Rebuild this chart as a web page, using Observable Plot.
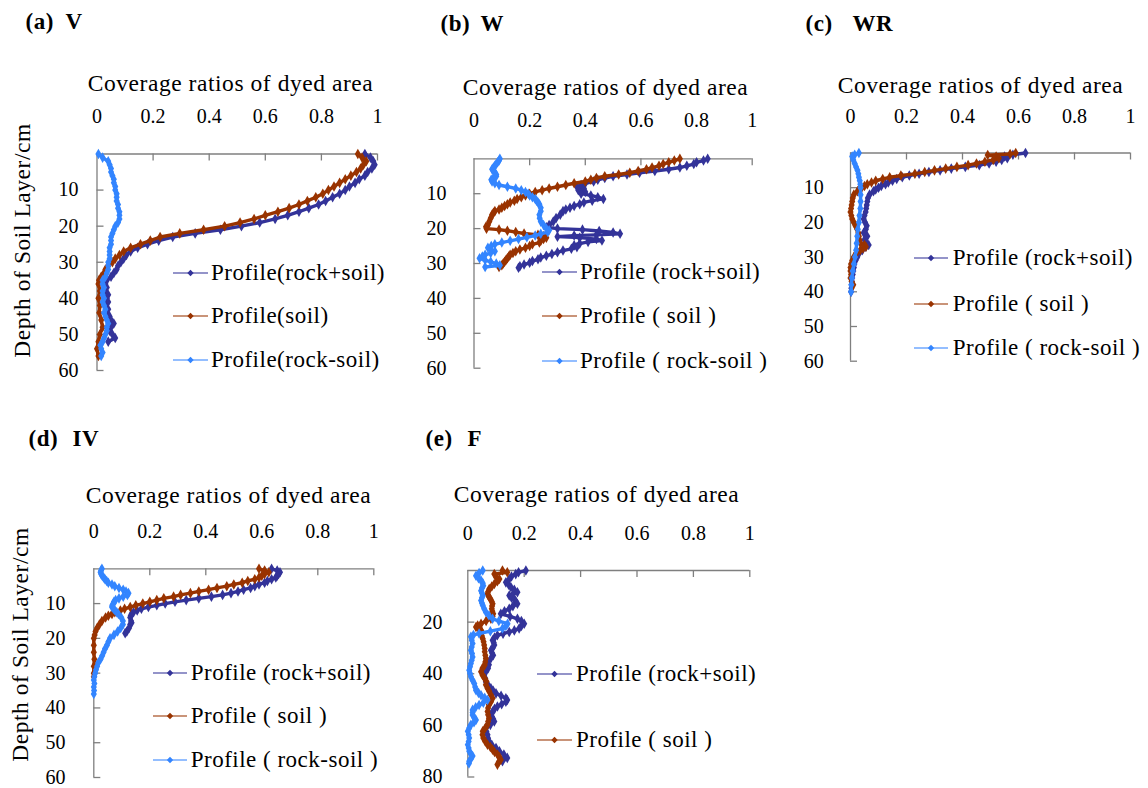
<!DOCTYPE html>
<html><head><meta charset="utf-8">
<script src="https://cdn.jsdelivr.net/npm/d3@7"></script>
<script src="https://cdn.jsdelivr.net/npm/@observablehq/plot@0.6"></script>
<style>
html,body{margin:0;padding:0;background:#fff;}
#root{position:relative;width:1148px;height:788px;overflow:hidden;background:#fff;font-family:"Liberation Serif",serif;}
.panel{position:absolute;}
.panel g[aria-label="text"] text{letter-spacing:0.55px;}
.legend{position:absolute;display:flex;align-items:center;height:26px;font-size:23px;letter-spacing:0.5px;color:#000;white-space:nowrap;font-family:"Liberation Serif",serif;}
.legend svg{display:block;overflow:visible;}
</style></head><body><div id="root"></div>
<script>
// ---------- shared categories / ticks ----------
const seriesNames = ["rock+soil", "soil", "rock-soil"];
const seriesColors = ["#333399", "#993300", "#3385ff"];
const xTicks = [0, 0.2, 0.4, 0.6, 0.8, 1];
const depthTicks60 = [10, 20, 30, 40, 50, 60];
const depthTicks80 = [20, 40, 60, 80];
const xAxisTitle = "Coverage ratios of dyed area";
const yAxisTitle = "Depth of Soil Layer/cm";
const legendLabelsA = ["Profile(rock+soil)", "Profile(soil)", "Profile(rock-soil)"];
const legendLabelsB = ["Profile (rock+soil)", "Profile ( soil )", "Profile ( rock-soil )"];
const panelLetters = ["(a)", "(b)", "(c)", "(d)", "(e)"];
const panelNames = ["V", "W", "WR", "IV", "F"];

// ---------- data: [depth cm, coverage ratio] ----------
// (a) V
const vRockPlusSoil = [[0,0.955],[1,0.975],[2,0.985],[3,0.99],[4,0.98],[5,0.965],[6,0.955],[7,0.935],[8,0.92],[9,0.9],[10,0.885],[11,0.865],[12,0.84],[13,0.815],[14,0.79],[15,0.755],[16,0.72],[17,0.68],[18,0.635],[19,0.58],[20,0.515],[21,0.44],[22,0.35],[23,0.27],[24,0.22],[25,0.18],[26,0.145],[27,0.12],[28,0.105],[29,0.095],[30,0.085],[31,0.075],[32,0.07],[33,0.06],[34,0.05],[35,0.035],[36,0.03],[37,0.035],[38,0.03],[39,0.04],[40,0.035],[41,0.04],[42,0.03],[43,0.04],[44,0.035],[45,0.045],[46,0.05],[47,0.06],[48,0.05],[49,0.045],[50,0.055],[51,0.065],[52,0.04]];
const vSoil = [[0,0.93],[1,0.945],[2,0.96],[3,0.95],[4,0.94],[5,0.925],[6,0.905],[7,0.885],[8,0.865],[9,0.845],[10,0.825],[11,0.805],[12,0.78],[13,0.75],[14,0.72],[15,0.685],[16,0.645],[17,0.6],[18,0.56],[19,0.51],[20,0.455],[21,0.38],[22,0.295],[23,0.225],[24,0.19],[25,0.155],[26,0.12],[27,0.095],[28,0.08],[29,0.065],[30,0.055],[31,0.04],[32,0.03],[33,0.025],[34,0.015],[35,0.007],[36,0.005],[38,0.01],[40,0.005],[42,0.01],[44,0.008],[46,0.015],[48,0.02],[50,0.01],[52,0.005],[54,0.0],[56,0.005]];
const vRockMinusSoil = [[0,0.005],[1,0.02],[2,0.04],[3,0.045],[4,0.05],[5,0.05],[6,0.055],[7,0.06],[8,0.06],[9,0.065],[10,0.065],[11,0.07],[12,0.07],[13,0.07],[14,0.075],[15,0.075],[16,0.08],[17,0.08],[18,0.08],[19,0.075],[20,0.065],[21,0.06],[22,0.055],[23,0.05],[24,0.05],[25,0.05],[26,0.045],[27,0.045],[28,0.045],[29,0.045],[30,0.04],[31,0.04],[32,0.04],[33,0.035],[34,0.03],[35,0.02],[36,0.02],[37,0.025],[38,0.02],[39,0.02],[40,0.025],[41,0.02],[42,0.025],[43,0.03],[44,0.025],[45,0.03],[46,0.035],[47,0.04],[48,0.035],[49,0.035],[50,0.03],[51,0.025],[52,0.02],[53,0.012],[54,0.015],[55,0.02],[56,0.015]];
// (b) W
const wRockPlusSoil = [[0,0.84],[0.5,0.825],[1,0.8],[1.5,0.79],[2,0.765],[2.5,0.74],[3,0.7],[3.5,0.65],[4,0.595],[4.5,0.55],[5,0.5],[5.5,0.47],[6,0.445],[6.5,0.43],[7,0.4],[7.5,0.385],[8,0.37],[8.5,0.395],[9,0.375],[9.5,0.4],[10,0.385],[10.5,0.42],[11,0.445],[11.5,0.465],[12,0.425],[12.5,0.395],[13,0.38],[13.5,0.36],[14,0.345],[14.5,0.33],[15,0.32],[16,0.31],[17,0.295],[18,0.285],[19,0.27],[19.6,0.26],[20,0.3],[20.3,0.39],[20.7,0.45],[21.1,0.5],[21.5,0.525],[21.8,0.44],[22,0.36],[22.3,0.3],[22.6,0.38],[23,0.44],[23.4,0.46],[23.8,0.41],[24.3,0.38],[24.8,0.36],[25.3,0.37],[25.8,0.35],[26.3,0.32],[26.8,0.3],[27.3,0.28],[27.8,0.26],[28.3,0.24],[28.8,0.23],[29.3,0.21],[29.8,0.2],[30.3,0.18],[30.8,0.165],[31.2,0.16]];
const wSoil = [[0,0.74],[0.5,0.72],[1,0.7],[1.5,0.68],[2,0.665],[2.5,0.64],[3,0.62],[3.5,0.59],[4,0.56],[4.5,0.52],[5,0.47],[5.5,0.44],[6,0.42],[6.5,0.4],[7,0.36],[7.5,0.33],[8,0.3],[8.5,0.27],[9,0.245],[9.5,0.22],[10,0.2],[10.5,0.185],[11,0.17],[11.5,0.155],[12,0.145],[12.5,0.13],[13,0.12],[13.5,0.11],[14,0.1],[14.5,0.09],[15,0.075],[15.5,0.07],[16,0.065],[17,0.06],[18,0.055],[19,0.05],[19.5,0.043],[20,0.045],[20.3,0.09],[20.6,0.12],[21,0.15],[21.4,0.18],[21.8,0.23],[22.2,0.25],[22.6,0.26],[23,0.25],[23.5,0.24],[24,0.235],[24.5,0.21],[25,0.2],[25.5,0.185],[26,0.165],[26.5,0.15],[27,0.14],[27.5,0.13],[28,0.125],[28.5,0.12],[29,0.115],[29.5,0.11],[30,0.105],[30.5,0.1],[31,0.09]];
const wRockMinusSoil = [[0,0.093],[0.5,0.09],[1,0.085],[1.5,0.08],[2,0.075],[2.5,0.07],[3,0.065],[3.5,0.07],[4,0.075],[4.5,0.08],[5,0.08],[5.5,0.07],[6,0.062],[6.5,0.065],[7,0.075],[7.5,0.09],[8,0.12],[8.5,0.15],[9,0.17],[9.5,0.185],[10,0.195],[10.5,0.2],[11,0.21],[11.5,0.22],[12,0.225],[12.5,0.23],[13,0.235],[14,0.24],[15,0.24],[16,0.235],[17,0.236],[18,0.24],[19,0.25],[20,0.26],[20.5,0.27],[21,0.265],[21.5,0.24],[22,0.22],[22.5,0.19],[23,0.16],[23.5,0.13],[24,0.1],[24.5,0.075],[25,0.062],[25.5,0.05],[26,0.06],[26.5,0.075],[27,0.06],[27.5,0.04],[28,0.03],[28.5,0.02],[29,0.04],[29.5,0.06],[30,0.08],[30.5,0.093],[31,0.04]];
// (c) WR
const wrRockPlusSoil = [[0,0.625],[0.5,0.58],[1,0.55],[1.5,0.56],[2,0.54],[2.5,0.52],[3,0.495],[3.5,0.46],[4,0.41],[4.5,0.36],[5,0.32],[5.5,0.28],[6,0.245],[6.5,0.21],[7,0.185],[7.5,0.165],[8,0.15],[8.5,0.135],[9,0.125],[9.5,0.11],[10,0.1],[10.5,0.09],[11,0.082],[12,0.068],[13,0.062],[14,0.06],[15,0.058],[16,0.056],[17,0.054],[18,0.05],[19,0.047],[20,0.052],[21,0.058],[22,0.055],[23,0.047],[24,0.06],[25,0.05],[26,0.058],[26.5,0.065],[27,0.055],[28,0.042],[29,0.03],[30,0.024],[31,0.018],[32,0.014],[33,0.012],[34,0.01],[35,0.008],[36,0.006],[37,0.005],[38,0.004],[39,0.003],[40,0.002]];
const wrSoil = [[0,0.59],[0.3,0.57],[0.6,0.49],[1,0.52],[1.5,0.53],[2,0.51],[2.5,0.48],[3,0.45],[3.5,0.42],[4,0.38],[4.5,0.34],[5,0.3],[5.5,0.265],[6,0.23],[6.5,0.18],[7,0.14],[7.5,0.115],[8,0.09],[8.5,0.075],[9,0.06],[9.5,0.05],[10,0.04],[10.5,0.03],[11,0.025],[12,0.012],[13,0.008],[14,0.006],[15,0.004],[16,0.002],[17,0.0],[18,0.003],[19,0.006],[20,0.012],[21,0.018],[22,0.024],[23,0.028],[24,0.03],[25,0.032],[26,0.036],[26.5,0.05],[27,0.055],[27.5,0.045],[28,0.035],[29,0.02],[30,0.012],[31,0.006],[32,0.002],[33,0.0],[34,0.0],[35,0.002],[36,0.0],[37,0.004],[38,0.01]];
const wrRockMinusSoil = [[0,0.03],[0.5,0.015],[1,0.006],[2,0.01],[3,0.015],[4,0.02],[5,0.025],[6,0.028],[7,0.03],[8,0.033],[9,0.035],[10,0.036],[12,0.036],[14,0.036],[16,0.035],[18,0.032],[20,0.03],[22,0.026],[24,0.024],[26,0.022],[28,0.02],[30,0.016],[32,0.012],[34,0.008],[36,0.005],[38,0.003],[40,0.002]];
// (d) IV
const ivRockPlusSoil = [[0,0.635],[0.5,0.655],[1,0.665],[1.5,0.66],[2,0.655],[2.5,0.65],[3,0.635],[3.5,0.62],[4,0.61],[4.5,0.59],[5,0.575],[5.5,0.56],[6,0.535],[6.5,0.515],[7,0.49],[7.5,0.46],[8,0.42],[8.5,0.375],[9,0.33],[9.5,0.29],[10,0.255],[10.5,0.225],[11,0.195],[11.5,0.17],[12,0.155],[12.5,0.142],[13,0.135],[13.5,0.132],[14,0.13],[15,0.133],[15.5,0.135],[16,0.13],[17,0.126],[18,0.118],[18.5,0.112]];
const ivSoil = [[0,0.59],[0.5,0.61],[1,0.625],[1.5,0.61],[2,0.6],[2.5,0.59],[3,0.575],[3.5,0.55],[4,0.53],[4.5,0.5],[5,0.475],[5.5,0.44],[6,0.41],[6.5,0.375],[7,0.345],[7.5,0.31],[8,0.285],[8.5,0.25],[9,0.225],[9.5,0.2],[10,0.175],[10.5,0.15],[11,0.13],[11.5,0.11],[12,0.095],[12.5,0.075],[13,0.065],[13.5,0.052],[14,0.042],[15,0.029],[16,0.02],[17,0.012],[18,0.006],[19,0.003],[20,0.0],[22,0.0],[24,0.0],[26,0.002],[28,0.0],[30,0.0],[31,0.0]];
const ivRockMinusSoil = [[0,0.029],[0.5,0.026],[1,0.024],[1.5,0.026],[2,0.03],[2.5,0.035],[3,0.04],[3.5,0.046],[4,0.052],[4.5,0.065],[5,0.075],[5.5,0.09],[6,0.105],[6.5,0.115],[7,0.124],[7.5,0.12],[8,0.105],[8.5,0.09],[9,0.078],[9.5,0.072],[10,0.07],[10.5,0.066],[11,0.065],[11.5,0.07],[12,0.076],[12.5,0.082],[13,0.088],[14,0.098],[15,0.104],[16,0.104],[17,0.096],[18,0.085],[19,0.072],[20,0.058],[21,0.052],[22,0.047],[23,0.04],[24,0.035],[25,0.03],[26,0.024],[27,0.016],[28,0.012],[29,0.008],[30,0.005],[31,0.002],[32,0.0],[33,0.002],[34,0.0],[35,0.001],[36,0.0]];
// (e) F
const fRockPlusSoil = [[0,0.206],[0.7,0.18],[1.4,0.17],[2.3,0.155],[3.3,0.147],[4.6,0.135],[5.5,0.145],[6.5,0.153],[7.5,0.165],[8.4,0.176],[9.2,0.16],[9.7,0.147],[10.5,0.155],[11,0.165],[12,0.17],[12.9,0.176],[13.8,0.16],[14.8,0.147],[15.8,0.13],[16.8,0.117],[17.8,0.15],[18.7,0.176],[19.6,0.19],[20.6,0.2],[21.5,0.19],[22.5,0.182],[23.2,0.165],[23.8,0.147],[24.5,0.125],[25.1,0.105],[26,0.095],[27,0.088],[28,0.092],[28.9,0.094],[30,0.088],[30.9,0.082],[32,0.086],[32.8,0.09],[34,0.082],[35.4,0.07],[36.5,0.075],[37.9,0.072],[39,0.065],[40.5,0.058],[41.8,0.062],[43.1,0.064],[44.4,0.072],[45.6,0.082],[46.6,0.09],[47.6,0.1],[48.5,0.118],[49.5,0.135],[50.2,0.14],[50.8,0.135],[51.8,0.12],[52.7,0.105],[53.6,0.095],[54.6,0.088],[55.6,0.084],[56.6,0.085],[57.5,0.09],[58.5,0.094],[59.8,0.08],[61.1,0.064],[62.4,0.066],[63.6,0.07],[65,0.072],[66.2,0.075],[67.5,0.085],[68.8,0.1],[70,0.112],[71.3,0.128],[72.6,0.14],[73.9,0.123]];
const fSoil = [[0,0.123],[0.7,0.14],[1.4,0.094],[2.3,0.1],[3.3,0.112],[4.2,0.105],[5.2,0.094],[6.2,0.085],[7.2,0.076],[8.2,0.072],[9.1,0.07],[10,0.074],[11,0.08],[12,0.085],[12.9,0.088],[13.8,0.086],[14.8,0.085],[15.8,0.087],[16.8,0.09],[17.8,0.088],[18.7,0.082],[19.6,0.065],[20.6,0.047],[21.3,0.035],[21.9,0.029],[22.5,0.038],[23.2,0.047],[23.8,0.05],[24.4,0.045],[25.4,0.05],[26.4,0.053],[27.6,0.056],[28.9,0.058],[30.2,0.06],[31.5,0.06],[32.8,0.062],[34.1,0.064],[35.4,0.062],[36.6,0.06],[37.9,0.052],[39.2,0.047],[40.5,0.052],[41.8,0.06],[43,0.066],[44.3,0.064],[45.6,0.07],[46.9,0.076],[48.2,0.082],[49.5,0.088],[50.8,0.082],[52,0.075],[53.3,0.072],[54.6,0.07],[55.9,0.072],[57.2,0.075],[58.5,0.072],[59.8,0.07],[61,0.062],[62.3,0.053],[63.6,0.052],[64.9,0.055],[66.2,0.062],[67.5,0.07],[68.4,0.08],[69.4,0.088],[70.3,0.095],[71.3,0.105],[72.3,0.112],[73.3,0.117],[74.2,0.11],[75.2,0.105]];
const fRockMinusSoil = [[0,0.053],[1,0.04],[2,0.029],[3,0.038],[3.9,0.047],[4.9,0.053],[5.9,0.055],[6.8,0.05],[7.8,0.047],[8.7,0.05],[9.7,0.053],[10.6,0.05],[11.6,0.047],[12.6,0.05],[13.5,0.053],[14.8,0.058],[16.1,0.064],[17.4,0.075],[18.7,0.088],[19.6,0.11],[20.6,0.141],[21.5,0.135],[22.5,0.123],[23.5,0.08],[24.4,0.04],[25,0.02],[25.7,0.011],[27,0.014],[28.3,0.017],[29.6,0.014],[30.9,0.011],[32.2,0.015],[33.5,0.017],[34.8,0.014],[36,0.011],[37.3,0.008],[38.6,0.005],[39.9,0.008],[41.2,0.011],[42.5,0.017],[43.8,0.023],[45.1,0.026],[46.4,0.029],[47.4,0.038],[48.3,0.047],[49.3,0.06],[50.2,0.07],[51.2,0.055],[52.1,0.04],[53,0.028],[54,0.017],[55,0.017],[56,0.017],[57,0.023],[57.9,0.029],[58.8,0.022],[59.8,0.011],[61,0.005],[62.3,0.0],[63.6,0.003],[64.9,0.005],[66.2,0.003],[67.5,0.0],[68.8,0.003],[70,0.005],[71,0.011],[71.9,0.017],[72.9,0.011],[73.9,0.005],[74.8,0.004]];

// ---------- layout ----------
const FONT = "Liberation Serif";
const AXIS = "#7f7f7f";
const panels = [
  {left:0, top:0, w:400, h:385, x0:96.5, x1:377, yTop:153.5, yBottom:370, depthMax:60, yTicks:depthTicks60,
   letterX:25, nameX:65, titleY:21.5, xLabelCX:230, xLabelY:82.7, tickLabelY:116, yTickRight:78,
   yLabel:{x:22, cy:240}, series:[vRockPlusSoil, vSoil, vRockMinusSoil],
   legend:{labels:legendLabelsA, x0:173, x1:208, tx:211, ys:[272.7,316,360]}},
  {left:400, top:0, w:380, h:385, x0:473.5, x1:751.7, yTop:158.3, yBottom:367.7, depthMax:60, yTicks:depthTicks60,
   letterX:440, nameX:480, titleY:23.3, xLabelCX:605, xLabelY:86.7, tickLabelY:120, yTickRight:446,
   yLabel:null, series:[wRockPlusSoil, wSoil, wRockMinusSoil],
   legend:{labels:legendLabelsB, x0:541.7, x1:576.7, tx:580, ys:[271.7,316,361]}},
  {left:780, top:0, w:368, h:385, x0:850, x1:1130, yTop:152.5, yBottom:360.7, depthMax:60, yTicks:depthTicks60,
   letterX:805, nameX:852, titleY:23.3, xLabelCX:980, xLabelY:85, tickLabelY:116, yTickRight:823.3,
   yLabel:null, series:[wrRockPlusSoil, wrSoil, wrRockMinusSoil],
   legend:{labels:legendLabelsB, x0:914, x1:948, tx:952.7, ys:[258.3,304,348.3]}},
  {left:0, top:400, w:400, h:388, x0:93.3, x1:373.3, yTop:568.3, yBottom:777, depthMax:60, yTicks:depthTicks60,
   letterX:28, nameX:72, titleY:438.3, xLabelCX:228, xLabelY:495, tickLabelY:531, yTickRight:65,
   yLabel:{x:20, cy:644}, series:[ivRockPlusSoil, ivSoil, ivRockMinusSoil],
   legend:{labels:legendLabelsB, x0:153, x1:187, tx:190.7, ys:[673.3,716,760]}},
  {left:400, top:400, w:380, h:388, x0:467.3, x1:749.3, yTop:570, yBottom:776.5, depthMax:80, yTicks:depthTicks80,
   letterX:425, nameX:467, titleY:438.3, xLabelCX:596, xLabelY:494, tickLabelY:533.3, yTickRight:442,
   yLabel:null, series:[fRockPlusSoil, fSoil, fRockMinusSoil],
   legend:{labels:legendLabelsB.slice(0,2), x0:536.7, x1:571.7, tx:576, ys:[674,740]}}
];

const root = document.getElementById("root");

panels.forEach((p, pi) => {
  const marginLeft = p.x0 - p.left;
  const marginRight = p.left + p.w - p.x1;
  const marginTop = p.yTop - p.top;
  const marginBottom = p.top + p.h - p.yBottom;
  const frameCY = (p.yTop + p.yBottom) / 2;

  const marks = [
    Plot.ruleY([0], {stroke: AXIS, strokeWidth: 1.3}),
    Plot.ruleX([0], {stroke: AXIS, strokeWidth: 1.3}),
    Plot.ruleX(xTicks.slice(1), {x: d => d, y1: () => 0, y2: () => 0, insetBottom: -7, stroke: AXIS, strokeWidth: 1.3}),
    Plot.ruleY(p.yTicks, {y: d => d, x1: () => 0, x2: () => 0, insetRight: -7, stroke: AXIS, strokeWidth: 1.3}),
    Plot.axisX(xTicks, {anchor: "top", tickSize: 0, tickPadding: p.yTop - p.tickLabelY, lineAnchor: "middle", tickFormat: d => String(d), fontSize: 20, label: null}),
    Plot.axisY(p.yTicks, {anchor: "left", tickSize: 0, tickPadding: p.x0 - p.yTickRight, tickFormat: d => String(d), fontSize: 20, label: null}),
    Plot.text([xAxisTitle], {frameAnchor: "top-left", text: d => d, dx: p.xLabelCX - p.x0, dy: p.xLabelY - p.yTop, textAnchor: "middle", lineAnchor: "middle", fontSize: 23.5}),
    Plot.text([panelLetters[pi]], {frameAnchor: "top-left", text: d => d, dx: p.letterX - p.x0, dy: p.titleY - p.yTop, textAnchor: "start", lineAnchor: "middle", fontWeight: "bold", fontSize: 23}),
    Plot.text([panelNames[pi]], {frameAnchor: "top-left", text: d => d, dx: p.nameX - p.x0, dy: p.titleY - p.yTop, textAnchor: "start", lineAnchor: "middle", fontWeight: "bold", fontSize: 23})
  ];
  if (p.yLabel) {
    marks.push(Plot.text([yAxisTitle], {frameAnchor: "left", text: d => d, rotate: -90, dx: p.yLabel.x - p.x0, dy: p.yLabel.cy - frameCY, textAnchor: "middle", lineAnchor: "middle", fontSize: 23.5}));
  }
  p.series.forEach((s, si) => {
    marks.push(Plot.line(s, {x: d => d[1], y: d => d[0], stroke: seriesColors[si], strokeWidth: 3.4, curve: "linear"}));
    marks.push(Plot.dot(s, {x: d => d[1], y: d => d[0], symbol: "diamond", r: 3.2, fill: seriesColors[si], stroke: "none"}));
  });

  const svg = Plot.plot({
    width: p.w, height: p.h,
    marginLeft, marginRight, marginTop, marginBottom,
    x: {domain: [0, 1]},
    y: {domain: [0, p.depthMax], reverse: true},
    style: {fontFamily: FONT, fontSize: "20px", color: "#000", background: "transparent", overflow: "visible"},
    marks
  });
  const wrap = document.createElement("div");
  wrap.className = "panel";
  wrap.style.left = p.left + "px";
  wrap.style.top = p.top + "px";
  wrap.appendChild(svg);
  root.appendChild(wrap);

  // legend
  p.legend.labels.forEach((lab, li) => {
    const el = document.createElement("div");
    el.className = "legend";
    el.style.left = p.legend.x0 + "px";
    el.style.top = (p.legend.ys[li] - 13) + "px";
    const lw = p.legend.x1 - p.legend.x0;
    const c = seriesColors[li];
    el.innerHTML = `<svg width="${lw}" height="10" viewBox="0 0 ${lw} 10"><line x1="0" y1="5" x2="${lw}" y2="5" stroke="${c}" stroke-opacity="0.7" stroke-width="1.6"/><path d="M${lw/2} 1.8 L${lw/2+3.2} 5 L${lw/2} 8.2 L${lw/2-3.2} 5 Z" fill="${c}"/></svg><span style="margin-left:${p.legend.tx - p.legend.x1}px">${lab}</span>`;
    root.appendChild(el);
  });
});
</script>
</body></html>
